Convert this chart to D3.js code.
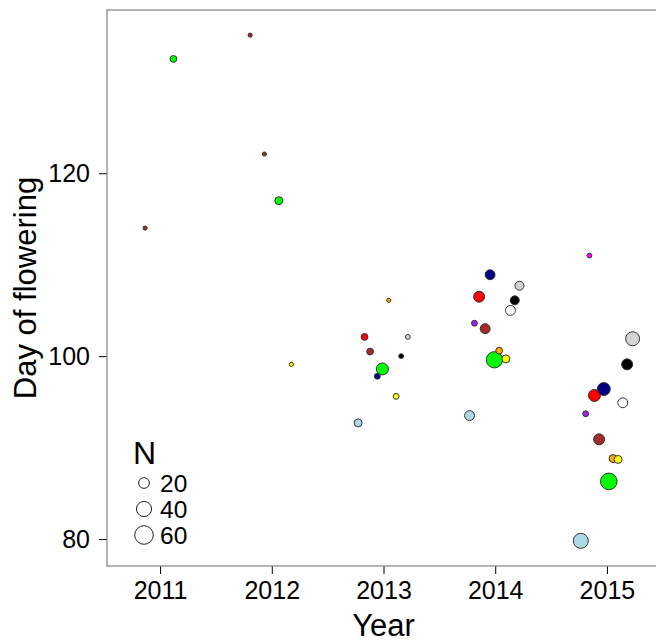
<!DOCTYPE html>
<html>
<head>
<meta charset="utf-8">
<script src="https://cdn.jsdelivr.net/npm/d3@7"></script>
<style>
  html, body { margin: 0; padding: 0; background: #fff; }
  svg { display: block; font-family: "Liberation Sans", Arial, sans-serif; }
</style>
</head>
<body>
<svg id="chart" width="656" height="642"></svg>
<script>
// Flowering day per population and year; points are spread a little
// around each year so overlapping populations stay visible.
const yearPos = [
  2010.866, 2011.120, 2011.806, 2011.934, 2012.063, 2012.175,
  2012.773, 2012.830, 2012.880, 2012.945, 2012.990, 2013.047, 2013.113, 2013.158, 2013.218,
  2013.770, 2013.814, 2013.856, 2013.910, 2013.954, 2013.993, 2014.035, 2014.095, 2014.136, 2014.175, 2014.217,
  2014.766, 2014.810, 2014.843, 2014.888, 2014.930, 2014.972, 2015.017, 2015.055, 2015.100, 2015.142, 2015.181, 2015.230
];
const dayOfFlowering = [
  114.0, 132.5, 135.1, 122.1, 117.0, 99.1,
  92.7, 102.1, 100.5, 97.8, 98.6, 106.1, 95.6, 100.0, 102.1,
  93.5, 103.6, 106.5, 103.0, 108.9, 99.6, 100.6, 99.7, 105.0, 106.1, 107.7,
  79.8, 93.7, 111.0, 95.7, 90.9, 96.4, 86.3, 88.8, 88.7, 94.9, 99.1, 101.9
];
const plantCount = [
  3, 8, 3, 3, 11, 3,
  11, 8, 8, 6, 25, 3, 6, 4, 4,
  17, 6, 21, 17, 17, 46, 8, 11, 17, 14, 14,
  39, 6, 4, 25, 21, 29, 48, 11, 11, 17, 21, 34
];
const popColour = [
  "brown", "#00ff00", "brown", "brown", "#00ff00", "yellow",
  "lightblue", "red", "brown", "navy", "#00ff00", "orange", "yellow", "black", "lightgrey",
  "lightblue", "#a020f0", "red", "brown", "navy", "#00ff00", "orange", "yellow", "white", "black", "lightgrey",
  "lightblue", "#a020f0", "magenta", "red", "brown", "navy", "#00ff00", "orange", "yellow", "white", "black", "lightgrey"
];
const yearTicks = [2011, 2012, 2013, 2014, 2015];
const dayTicks = [80, 100, 120];
const legendSizes = [20, 40, 60];

const svg = d3.select("#chart");
const panel = { left: 107, top: 10, right: 660, bottom: 566 };

const x = d3.scaleLinear().domain([2010.525, 2015.475]).range([panel.left, panel.right]);
const y = d3.scaleLinear().domain([77.05, 137.85]).range([panel.bottom, panel.top]);
const r = d3.scaleSqrt().domain([0, 60]).range([0, 9.3]);

// axes
const xAxis = svg.append("g")
  .attr("transform", `translate(0,${panel.bottom})`)
  .call(d3.axisBottom(x).tickValues(yearTicks).tickFormat(d3.format("d")).tickSize(8).tickPadding(7));
const yAxis = svg.append("g")
  .attr("transform", `translate(${panel.left},0)`)
  .call(d3.axisLeft(y).tickValues(dayTicks).tickSize(8).tickPadding(9));
[xAxis, yAxis].forEach(g => {
  g.select(".domain").remove();
  g.selectAll(".tick line").attr("stroke", "#000");
  g.selectAll(".tick text").attr("font-size", 25).attr("fill", "#000")
    .attr("font-family", "Liberation Sans, Arial, sans-serif");
});

// panel border
svg.append("rect")
  .attr("x", panel.left).attr("y", panel.top)
  .attr("width", panel.right - panel.left).attr("height", panel.bottom - panel.top)
  .attr("fill", "none").attr("stroke", "#8c8c8c").attr("stroke-width", 1.3);

// points
const pts = yearPos.map((d, i) => ({ x: d, y: dayOfFlowering[i], n: plantCount[i], c: popColour[i] }));
svg.append("g").selectAll("circle").data(pts).join("circle")
  .attr("cx", d => x(d.x))
  .attr("cy", d => y(d.y))
  .attr("r", d => r(d.n))
  .attr("fill", d => d.c)
  .attr("stroke", "#333")
  .attr("stroke-width", 1);

// axis titles
svg.append("text")
  .attr("x", (panel.left + panel.right) / 2).attr("y", 636)
  .attr("text-anchor", "middle").attr("font-size", 31).text("Year");
svg.append("text")
  .attr("transform", `translate(36,${(panel.top + panel.bottom) / 2}) rotate(-90)`)
  .attr("text-anchor", "middle").attr("font-size", 31).text("Day of flowering");

// size legend
const leg = svg.append("g");
leg.append("text").attr("x", 133).attr("y", 464).attr("font-size", 32).text("N");
const legY = [483, 509, 535];
legendSizes.forEach((n, i) => {
  leg.append("circle").attr("cx", 144).attr("cy", legY[i]).attr("r", r(n))
    .attr("fill", "#fff").attr("stroke", "#222").attr("stroke-width", 1);
  leg.append("text").attr("x", 160).attr("y", legY[i]).attr("dy", "0.36em")
    .attr("font-size", 24.5).text(n);
});
</script>
</body>
</html>
